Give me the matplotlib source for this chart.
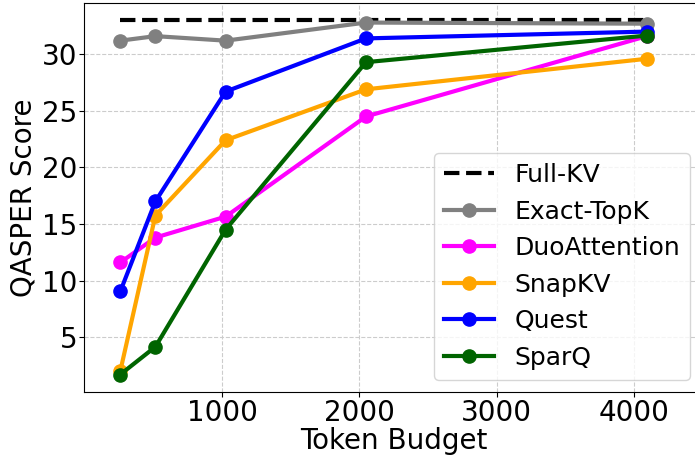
import numpy as np
import matplotlib.pyplot as plt

budgets = [256, 512, 1024, 2048, 4096]
full_kv = 33.0
exact_topk = [31.2, 31.6, 31.2, 32.8, 32.7]
duo_attention = [11.6, 13.8, 15.65, 24.5, 31.6]
snapkv = [2.0, 15.75, 22.4, 26.9, 29.6]
quest = [9.04, 17.0, 26.7, 31.4, 32.0]
sparq = [1.7, 4.15, 14.5, 29.3, 31.65]

fig = plt.figure(figsize=(6.95, 4.58), dpi=100)
# right edge of the axes sits just past the figure border, as in the original crop
ax = fig.add_axes([0.1213, 0.144, 0.8895, 0.850])

ax.plot(budgets, [full_kv] * len(budgets), '--', color='black', lw=3, label='Full-KV')
ax.plot(budgets, exact_topk, '-o', color='gray', lw=3, ms=9.5, label='Exact-TopK')
ax.plot(budgets, duo_attention, '-o', color='magenta', lw=3, ms=9.5, label='DuoAttention')
ax.plot(budgets, snapkv, '-o', color='orange', lw=3, ms=9.5, label='SnapKV')
ax.plot(budgets, quest, '-o', color='blue', lw=3, ms=9.5, label='Quest')
ax.plot(budgets, sparq, '-o', color='darkgreen', lw=3, ms=9.5, label='SparQ')

ax.set_xlim(-6.5, 4502)
ax.set_ylim(0.15, 34.55)
ax.set_xticks([1000, 2000, 3000, 4000])
ax.set_yticks([5, 10, 15, 20, 25, 30])
ax.tick_params(labelsize=20, pad=1.5)
ax.set_xlabel('Token Budget', fontsize=20, labelpad=0)
ax.set_ylabel('QASPER Score', fontsize=20, labelpad=3)
ax.grid(True, linestyle='--', color='#cccccc', lw=0.8)
ax.legend(fontsize=18, loc='lower right')

fig.savefig('out.png', dpi=100)
